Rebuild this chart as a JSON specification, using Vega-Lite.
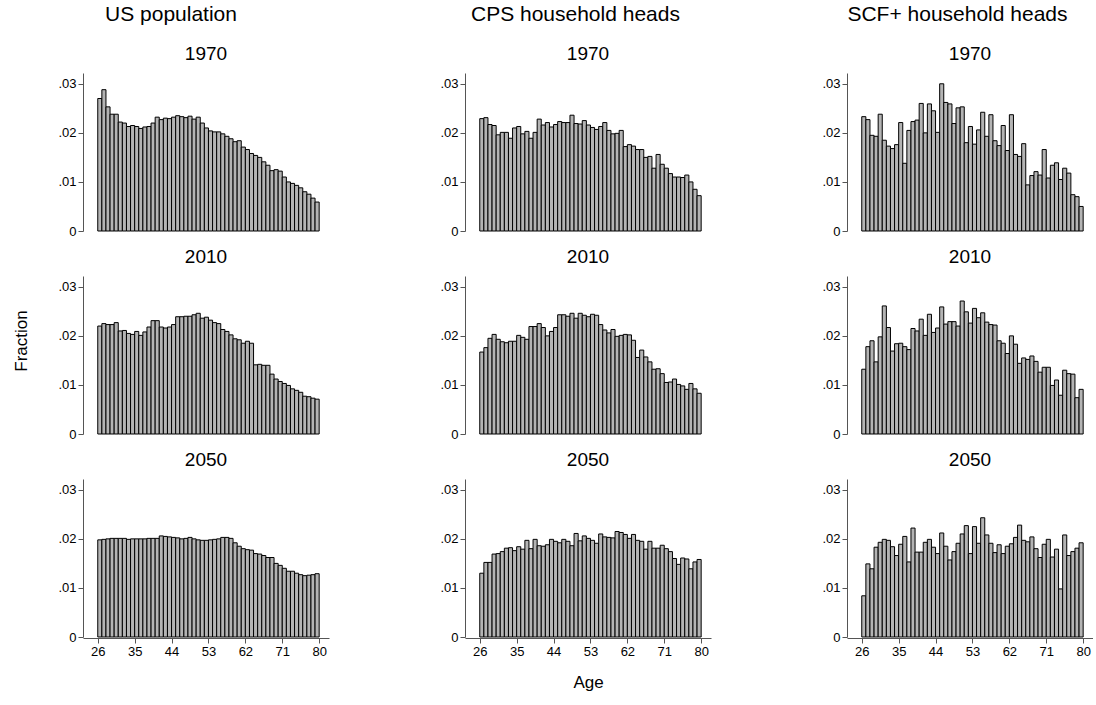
{
"$schema":"https://vega.github.io/schema/vega-lite/v6.json",
"background":"white",
"padding":{"left":13,"top":4,"right":0,"bottom":5},
"config":{"font":"Liberation Sans","view":{"stroke":null},
"title":{"font":"Liberation Sans","fontSize":21,"fontWeight":"normal","offset":20,"anchor":"middle"},
"axis":{"labelFont":"Liberation Sans","labelFontSize":13,"titleFont":"Liberation Sans","titleFontSize":17,"titleFontWeight":"normal","grid":false,"domainColor":"#555","tickColor":"#555","labelColor":"black","titleColor":"black"},
"header":{"labelFont":"Liberation Sans","labelFontSize":19,"titleFont":"Liberation Sans","titleFontSize":17,"titleFontWeight":"normal"}},
"datasets":{
"us":[
{"y":1970,"a":26,"v":0.0270},{"y":1970,"a":27,"v":0.0288},{"y":1970,"a":28,"v":0.0253},{"y":1970,"a":29,"v":0.0238},{"y":1970,"a":30,"v":0.0238},{"y":1970,"a":31,"v":0.0222},{"y":1970,"a":32,"v":0.0220},{"y":1970,"a":33,"v":0.0213},{"y":1970,"a":34,"v":0.0215},{"y":1970,"a":35,"v":0.0213},{"y":1970,"a":36,"v":0.0209},{"y":1970,"a":37,"v":0.0212},{"y":1970,"a":38,"v":0.0213},{"y":1970,"a":39,"v":0.0220},{"y":1970,"a":40,"v":0.0232},{"y":1970,"a":41,"v":0.0227},{"y":1970,"a":42,"v":0.0230},{"y":1970,"a":43,"v":0.0229},{"y":1970,"a":44,"v":0.0232},{"y":1970,"a":45,"v":0.0235},{"y":1970,"a":46,"v":0.0233},{"y":1970,"a":47,"v":0.0231},{"y":1970,"a":48,"v":0.0234},{"y":1970,"a":49,"v":0.0228},{"y":1970,"a":50,"v":0.0232},{"y":1970,"a":51,"v":0.0220},{"y":1970,"a":52,"v":0.0210},{"y":1970,"a":53,"v":0.0204},{"y":1970,"a":54,"v":0.0202},{"y":1970,"a":55,"v":0.0202},{"y":1970,"a":56,"v":0.0198},{"y":1970,"a":57,"v":0.0193},{"y":1970,"a":58,"v":0.0188},{"y":1970,"a":59,"v":0.0182},{"y":1970,"a":60,"v":0.0184},{"y":1970,"a":61,"v":0.0171},{"y":1970,"a":62,"v":0.0166},{"y":1970,"a":63,"v":0.0158},{"y":1970,"a":64,"v":0.0154},{"y":1970,"a":65,"v":0.0150},{"y":1970,"a":66,"v":0.0141},{"y":1970,"a":67,"v":0.0134},{"y":1970,"a":68,"v":0.0123},{"y":1970,"a":69,"v":0.0125},{"y":1970,"a":70,"v":0.0122},{"y":1970,"a":71,"v":0.0110},{"y":1970,"a":72,"v":0.0100},{"y":1970,"a":73,"v":0.0097},{"y":1970,"a":74,"v":0.0093},{"y":1970,"a":75,"v":0.0088},{"y":1970,"a":76,"v":0.0080},{"y":1970,"a":77,"v":0.0075},{"y":1970,"a":78,"v":0.0067},{"y":1970,"a":79,"v":0.0059},
{"y":2010,"a":26,"v":0.0220},{"y":2010,"a":27,"v":0.0225},{"y":2010,"a":28,"v":0.0223},{"y":2010,"a":29,"v":0.0223},{"y":2010,"a":30,"v":0.0227},{"y":2010,"a":31,"v":0.0210},{"y":2010,"a":32,"v":0.0211},{"y":2010,"a":33,"v":0.0205},{"y":2010,"a":34,"v":0.0203},{"y":2010,"a":35,"v":0.0209},{"y":2010,"a":36,"v":0.0201},{"y":2010,"a":37,"v":0.0208},{"y":2010,"a":38,"v":0.0218},{"y":2010,"a":39,"v":0.0231},{"y":2010,"a":40,"v":0.0231},{"y":2010,"a":41,"v":0.0218},{"y":2010,"a":42,"v":0.0216},{"y":2010,"a":43,"v":0.0218},{"y":2010,"a":44,"v":0.0223},{"y":2010,"a":45,"v":0.0239},{"y":2010,"a":46,"v":0.0239},{"y":2010,"a":47,"v":0.0240},{"y":2010,"a":48,"v":0.0240},{"y":2010,"a":49,"v":0.0243},{"y":2010,"a":50,"v":0.0246},{"y":2010,"a":51,"v":0.0236},{"y":2010,"a":52,"v":0.0238},{"y":2010,"a":53,"v":0.0232},{"y":2010,"a":54,"v":0.0227},{"y":2010,"a":55,"v":0.0225},{"y":2010,"a":56,"v":0.0213},{"y":2010,"a":57,"v":0.0209},{"y":2010,"a":58,"v":0.0202},{"y":2010,"a":59,"v":0.0194},{"y":2010,"a":60,"v":0.0192},{"y":2010,"a":61,"v":0.0185},{"y":2010,"a":62,"v":0.0189},{"y":2010,"a":63,"v":0.0185},{"y":2010,"a":64,"v":0.0141},{"y":2010,"a":65,"v":0.0142},{"y":2010,"a":66,"v":0.0140},{"y":2010,"a":67,"v":0.0140},{"y":2010,"a":68,"v":0.0122},{"y":2010,"a":69,"v":0.0112},{"y":2010,"a":70,"v":0.0107},{"y":2010,"a":71,"v":0.0103},{"y":2010,"a":72,"v":0.0099},{"y":2010,"a":73,"v":0.0092},{"y":2010,"a":74,"v":0.0089},{"y":2010,"a":75,"v":0.0085},{"y":2010,"a":76,"v":0.0077},{"y":2010,"a":77,"v":0.0076},{"y":2010,"a":78,"v":0.0073},{"y":2010,"a":79,"v":0.0071},
{"y":2050,"a":26,"v":0.0198},{"y":2050,"a":27,"v":0.0199},{"y":2050,"a":28,"v":0.0200},{"y":2050,"a":29,"v":0.0201},{"y":2050,"a":30,"v":0.0201},{"y":2050,"a":31,"v":0.0201},{"y":2050,"a":32,"v":0.0201},{"y":2050,"a":33,"v":0.0199},{"y":2050,"a":34,"v":0.0200},{"y":2050,"a":35,"v":0.0200},{"y":2050,"a":36,"v":0.0200},{"y":2050,"a":37,"v":0.0200},{"y":2050,"a":38,"v":0.0201},{"y":2050,"a":39,"v":0.0201},{"y":2050,"a":40,"v":0.0201},{"y":2050,"a":41,"v":0.0206},{"y":2050,"a":42,"v":0.0205},{"y":2050,"a":43,"v":0.0204},{"y":2050,"a":44,"v":0.0203},{"y":2050,"a":45,"v":0.0202},{"y":2050,"a":46,"v":0.0200},{"y":2050,"a":47,"v":0.0201},{"y":2050,"a":48,"v":0.0203},{"y":2050,"a":49,"v":0.0200},{"y":2050,"a":50,"v":0.0198},{"y":2050,"a":51,"v":0.0197},{"y":2050,"a":52,"v":0.0197},{"y":2050,"a":53,"v":0.0198},{"y":2050,"a":54,"v":0.0199},{"y":2050,"a":55,"v":0.0200},{"y":2050,"a":56,"v":0.0203},{"y":2050,"a":57,"v":0.0203},{"y":2050,"a":58,"v":0.0201},{"y":2050,"a":59,"v":0.0192},{"y":2050,"a":60,"v":0.0185},{"y":2050,"a":61,"v":0.0180},{"y":2050,"a":62,"v":0.0178},{"y":2050,"a":63,"v":0.0177},{"y":2050,"a":64,"v":0.0170},{"y":2050,"a":65,"v":0.0169},{"y":2050,"a":66,"v":0.0166},{"y":2050,"a":67,"v":0.0162},{"y":2050,"a":68,"v":0.0162},{"y":2050,"a":69,"v":0.0150},{"y":2050,"a":70,"v":0.0146},{"y":2050,"a":71,"v":0.0140},{"y":2050,"a":72,"v":0.0134},{"y":2050,"a":73,"v":0.0134},{"y":2050,"a":74,"v":0.0130},{"y":2050,"a":75,"v":0.0127},{"y":2050,"a":76,"v":0.0125},{"y":2050,"a":77,"v":0.0126},{"y":2050,"a":78,"v":0.0127},{"y":2050,"a":79,"v":0.0129}],
"cps":[
{"y":1970,"a":26,"v":0.0229},{"y":1970,"a":27,"v":0.0231},{"y":1970,"a":28,"v":0.0217},{"y":1970,"a":29,"v":0.0215},{"y":1970,"a":30,"v":0.0196},{"y":1970,"a":31,"v":0.0201},{"y":1970,"a":32,"v":0.0201},{"y":1970,"a":33,"v":0.0189},{"y":1970,"a":34,"v":0.0210},{"y":1970,"a":35,"v":0.0213},{"y":1970,"a":36,"v":0.0198},{"y":1970,"a":37,"v":0.0203},{"y":1970,"a":38,"v":0.0189},{"y":1970,"a":39,"v":0.0201},{"y":1970,"a":40,"v":0.0228},{"y":1970,"a":41,"v":0.0216},{"y":1970,"a":42,"v":0.0221},{"y":1970,"a":43,"v":0.0212},{"y":1970,"a":44,"v":0.0217},{"y":1970,"a":45,"v":0.0223},{"y":1970,"a":46,"v":0.0221},{"y":1970,"a":47,"v":0.0221},{"y":1970,"a":48,"v":0.0236},{"y":1970,"a":49,"v":0.0219},{"y":1970,"a":50,"v":0.0218},{"y":1970,"a":51,"v":0.0225},{"y":1970,"a":52,"v":0.0216},{"y":1970,"a":53,"v":0.0211},{"y":1970,"a":54,"v":0.0207},{"y":1970,"a":55,"v":0.0213},{"y":1970,"a":56,"v":0.0221},{"y":1970,"a":57,"v":0.0205},{"y":1970,"a":58,"v":0.0198},{"y":1970,"a":59,"v":0.0199},{"y":1970,"a":60,"v":0.0205},{"y":1970,"a":61,"v":0.0172},{"y":1970,"a":62,"v":0.0176},{"y":1970,"a":63,"v":0.0173},{"y":1970,"a":64,"v":0.0166},{"y":1970,"a":65,"v":0.0166},{"y":1970,"a":66,"v":0.0150},{"y":1970,"a":67,"v":0.0152},{"y":1970,"a":68,"v":0.0128},{"y":1970,"a":69,"v":0.0156},{"y":1970,"a":70,"v":0.0136},{"y":1970,"a":71,"v":0.0128},{"y":1970,"a":72,"v":0.0117},{"y":1970,"a":73,"v":0.0110},{"y":1970,"a":74,"v":0.0110},{"y":1970,"a":75,"v":0.0109},{"y":1970,"a":76,"v":0.0114},{"y":1970,"a":77,"v":0.0100},{"y":1970,"a":78,"v":0.0085},{"y":1970,"a":79,"v":0.0072},
{"y":2010,"a":26,"v":0.0167},{"y":2010,"a":27,"v":0.0176},{"y":2010,"a":28,"v":0.0195},{"y":2010,"a":29,"v":0.0203},{"y":2010,"a":30,"v":0.0193},{"y":2010,"a":31,"v":0.0188},{"y":2010,"a":32,"v":0.0186},{"y":2010,"a":33,"v":0.0189},{"y":2010,"a":34,"v":0.0189},{"y":2010,"a":35,"v":0.0201},{"y":2010,"a":36,"v":0.0197},{"y":2010,"a":37,"v":0.0193},{"y":2010,"a":38,"v":0.0219},{"y":2010,"a":39,"v":0.0219},{"y":2010,"a":40,"v":0.0225},{"y":2010,"a":41,"v":0.0217},{"y":2010,"a":42,"v":0.0200},{"y":2010,"a":43,"v":0.0209},{"y":2010,"a":44,"v":0.0217},{"y":2010,"a":45,"v":0.0243},{"y":2010,"a":46,"v":0.0243},{"y":2010,"a":47,"v":0.0240},{"y":2010,"a":48,"v":0.0246},{"y":2010,"a":49,"v":0.0236},{"y":2010,"a":50,"v":0.0246},{"y":2010,"a":51,"v":0.0242},{"y":2010,"a":52,"v":0.0239},{"y":2010,"a":53,"v":0.0244},{"y":2010,"a":54,"v":0.0242},{"y":2010,"a":55,"v":0.0223},{"y":2010,"a":56,"v":0.0212},{"y":2010,"a":57,"v":0.0206},{"y":2010,"a":58,"v":0.0213},{"y":2010,"a":59,"v":0.0199},{"y":2010,"a":60,"v":0.0201},{"y":2010,"a":61,"v":0.0203},{"y":2010,"a":62,"v":0.0202},{"y":2010,"a":63,"v":0.0191},{"y":2010,"a":64,"v":0.0156},{"y":2010,"a":65,"v":0.0171},{"y":2010,"a":66,"v":0.0157},{"y":2010,"a":67,"v":0.0147},{"y":2010,"a":68,"v":0.0132},{"y":2010,"a":69,"v":0.0133},{"y":2010,"a":70,"v":0.0123},{"y":2010,"a":71,"v":0.0105},{"y":2010,"a":72,"v":0.0106},{"y":2010,"a":73,"v":0.0112},{"y":2010,"a":74,"v":0.0101},{"y":2010,"a":75,"v":0.0098},{"y":2010,"a":76,"v":0.0091},{"y":2010,"a":77,"v":0.0103},{"y":2010,"a":78,"v":0.0092},{"y":2010,"a":79,"v":0.0083},
{"y":2050,"a":26,"v":0.0130},{"y":2050,"a":27,"v":0.0152},{"y":2050,"a":28,"v":0.0152},{"y":2050,"a":29,"v":0.0169},{"y":2050,"a":30,"v":0.0170},{"y":2050,"a":31,"v":0.0174},{"y":2050,"a":32,"v":0.0181},{"y":2050,"a":33,"v":0.0182},{"y":2050,"a":34,"v":0.0176},{"y":2050,"a":35,"v":0.0184},{"y":2050,"a":36,"v":0.0179},{"y":2050,"a":37,"v":0.0197},{"y":2050,"a":38,"v":0.0180},{"y":2050,"a":39,"v":0.0199},{"y":2050,"a":40,"v":0.0186},{"y":2050,"a":41,"v":0.0185},{"y":2050,"a":42,"v":0.0188},{"y":2050,"a":43,"v":0.0199},{"y":2050,"a":44,"v":0.0195},{"y":2050,"a":45,"v":0.0192},{"y":2050,"a":46,"v":0.0199},{"y":2050,"a":47,"v":0.0195},{"y":2050,"a":48,"v":0.0186},{"y":2050,"a":49,"v":0.0211},{"y":2050,"a":50,"v":0.0196},{"y":2050,"a":51,"v":0.0206},{"y":2050,"a":52,"v":0.0201},{"y":2050,"a":53,"v":0.0197},{"y":2050,"a":54,"v":0.0191},{"y":2050,"a":55,"v":0.0210},{"y":2050,"a":56,"v":0.0204},{"y":2050,"a":57,"v":0.0203},{"y":2050,"a":58,"v":0.0202},{"y":2050,"a":59,"v":0.0215},{"y":2050,"a":60,"v":0.0213},{"y":2050,"a":61,"v":0.0209},{"y":2050,"a":62,"v":0.0201},{"y":2050,"a":63,"v":0.0209},{"y":2050,"a":64,"v":0.0197},{"y":2050,"a":65,"v":0.0195},{"y":2050,"a":66,"v":0.0179},{"y":2050,"a":67,"v":0.0195},{"y":2050,"a":68,"v":0.0181},{"y":2050,"a":69,"v":0.0181},{"y":2050,"a":70,"v":0.0187},{"y":2050,"a":71,"v":0.0180},{"y":2050,"a":72,"v":0.0174},{"y":2050,"a":73,"v":0.0160},{"y":2050,"a":74,"v":0.0148},{"y":2050,"a":75,"v":0.0161},{"y":2050,"a":76,"v":0.0159},{"y":2050,"a":77,"v":0.0139},{"y":2050,"a":78,"v":0.0153},{"y":2050,"a":79,"v":0.0158}],
"scf":[
{"y":1970,"a":26,"v":0.0233},{"y":1970,"a":27,"v":0.0227},{"y":1970,"a":28,"v":0.0195},{"y":1970,"a":29,"v":0.0193},{"y":1970,"a":30,"v":0.0238},{"y":1970,"a":31,"v":0.0185},{"y":1970,"a":32,"v":0.0173},{"y":1970,"a":33,"v":0.0168},{"y":1970,"a":34,"v":0.0176},{"y":1970,"a":35,"v":0.0221},{"y":1970,"a":36,"v":0.0138},{"y":1970,"a":37,"v":0.0205},{"y":1970,"a":38,"v":0.0223},{"y":1970,"a":39,"v":0.0226},{"y":1970,"a":40,"v":0.0260},{"y":1970,"a":41,"v":0.0200},{"y":1970,"a":42,"v":0.0259},{"y":1970,"a":43,"v":0.0245},{"y":1970,"a":44,"v":0.0201},{"y":1970,"a":45,"v":0.0300},{"y":1970,"a":46,"v":0.0262},{"y":1970,"a":47,"v":0.0259},{"y":1970,"a":48,"v":0.0219},{"y":1970,"a":49,"v":0.0251},{"y":1970,"a":50,"v":0.0253},{"y":1970,"a":51,"v":0.0180},{"y":1970,"a":52,"v":0.0213},{"y":1970,"a":53,"v":0.0177},{"y":1970,"a":54,"v":0.0206},{"y":1970,"a":55,"v":0.0242},{"y":1970,"a":56,"v":0.0193},{"y":1970,"a":57,"v":0.0237},{"y":1970,"a":58,"v":0.0184},{"y":1970,"a":59,"v":0.0174},{"y":1970,"a":60,"v":0.0215},{"y":1970,"a":61,"v":0.0164},{"y":1970,"a":62,"v":0.0237},{"y":1970,"a":63,"v":0.0156},{"y":1970,"a":64,"v":0.0152},{"y":1970,"a":65,"v":0.0178},{"y":1970,"a":66,"v":0.0094},{"y":1970,"a":67,"v":0.0113},{"y":1970,"a":68,"v":0.0121},{"y":1970,"a":69,"v":0.0114},{"y":1970,"a":70,"v":0.0166},{"y":1970,"a":71,"v":0.0108},{"y":1970,"a":72,"v":0.0134},{"y":1970,"a":73,"v":0.0139},{"y":1970,"a":74,"v":0.0105},{"y":1970,"a":75,"v":0.0128},{"y":1970,"a":76,"v":0.0118},{"y":1970,"a":77,"v":0.0074},{"y":1970,"a":78,"v":0.0070},{"y":1970,"a":79,"v":0.0050},
{"y":2010,"a":26,"v":0.0132},{"y":2010,"a":27,"v":0.0178},{"y":2010,"a":28,"v":0.0190},{"y":2010,"a":29,"v":0.0147},{"y":2010,"a":30,"v":0.0198},{"y":2010,"a":31,"v":0.0261},{"y":2010,"a":32,"v":0.0217},{"y":2010,"a":33,"v":0.0169},{"y":2010,"a":34,"v":0.0184},{"y":2010,"a":35,"v":0.0185},{"y":2010,"a":36,"v":0.0178},{"y":2010,"a":37,"v":0.0172},{"y":2010,"a":38,"v":0.0215},{"y":2010,"a":39,"v":0.0210},{"y":2010,"a":40,"v":0.0234},{"y":2010,"a":41,"v":0.0201},{"y":2010,"a":42,"v":0.0244},{"y":2010,"a":43,"v":0.0207},{"y":2010,"a":44,"v":0.0216},{"y":2010,"a":45,"v":0.0259},{"y":2010,"a":46,"v":0.0224},{"y":2010,"a":47,"v":0.0229},{"y":2010,"a":48,"v":0.0229},{"y":2010,"a":49,"v":0.0220},{"y":2010,"a":50,"v":0.0271},{"y":2010,"a":51,"v":0.0249},{"y":2010,"a":52,"v":0.0226},{"y":2010,"a":53,"v":0.0256},{"y":2010,"a":54,"v":0.0237},{"y":2010,"a":55,"v":0.0247},{"y":2010,"a":56,"v":0.0228},{"y":2010,"a":57,"v":0.0223},{"y":2010,"a":58,"v":0.0222},{"y":2010,"a":59,"v":0.0190},{"y":2010,"a":60,"v":0.0185},{"y":2010,"a":61,"v":0.0164},{"y":2010,"a":62,"v":0.0200},{"y":2010,"a":63,"v":0.0183},{"y":2010,"a":64,"v":0.0144},{"y":2010,"a":65,"v":0.0155},{"y":2010,"a":66,"v":0.0152},{"y":2010,"a":67,"v":0.0159},{"y":2010,"a":68,"v":0.0148},{"y":2010,"a":69,"v":0.0126},{"y":2010,"a":70,"v":0.0136},{"y":2010,"a":71,"v":0.0136},{"y":2010,"a":72,"v":0.0099},{"y":2010,"a":73,"v":0.0110},{"y":2010,"a":74,"v":0.0079},{"y":2010,"a":75,"v":0.0130},{"y":2010,"a":76,"v":0.0123},{"y":2010,"a":77,"v":0.0122},{"y":2010,"a":78,"v":0.0074},{"y":2010,"a":79,"v":0.0091},
{"y":2050,"a":26,"v":0.0084},{"y":2050,"a":27,"v":0.0149},{"y":2050,"a":28,"v":0.0139},{"y":2050,"a":29,"v":0.0183},{"y":2050,"a":30,"v":0.0193},{"y":2050,"a":31,"v":0.0199},{"y":2050,"a":32,"v":0.0197},{"y":2050,"a":33,"v":0.0184},{"y":2050,"a":34,"v":0.0166},{"y":2050,"a":35,"v":0.0189},{"y":2050,"a":36,"v":0.0205},{"y":2050,"a":37,"v":0.0153},{"y":2050,"a":38,"v":0.0222},{"y":2050,"a":39,"v":0.0173},{"y":2050,"a":40,"v":0.0173},{"y":2050,"a":41,"v":0.0193},{"y":2050,"a":42,"v":0.0199},{"y":2050,"a":43,"v":0.0183},{"y":2050,"a":44,"v":0.0170},{"y":2050,"a":45,"v":0.0212},{"y":2050,"a":46,"v":0.0185},{"y":2050,"a":47,"v":0.0157},{"y":2050,"a":48,"v":0.0174},{"y":2050,"a":49,"v":0.0191},{"y":2050,"a":50,"v":0.0210},{"y":2050,"a":51,"v":0.0227},{"y":2050,"a":52,"v":0.0170},{"y":2050,"a":53,"v":0.0225},{"y":2050,"a":54,"v":0.0191},{"y":2050,"a":55,"v":0.0243},{"y":2050,"a":56,"v":0.0208},{"y":2050,"a":57,"v":0.0191},{"y":2050,"a":58,"v":0.0172},{"y":2050,"a":59,"v":0.0188},{"y":2050,"a":60,"v":0.0170},{"y":2050,"a":61,"v":0.0185},{"y":2050,"a":62,"v":0.0190},{"y":2050,"a":63,"v":0.0203},{"y":2050,"a":64,"v":0.0228},{"y":2050,"a":65,"v":0.0197},{"y":2050,"a":66,"v":0.0194},{"y":2050,"a":67,"v":0.0204},{"y":2050,"a":68,"v":0.0180},{"y":2050,"a":69,"v":0.0162},{"y":2050,"a":70,"v":0.0189},{"y":2050,"a":71,"v":0.0199},{"y":2050,"a":72,"v":0.0163},{"y":2050,"a":73,"v":0.0179},{"y":2050,"a":74,"v":0.0098},{"y":2050,"a":75,"v":0.0208},{"y":2050,"a":76,"v":0.0166},{"y":2050,"a":77,"v":0.0174},{"y":2050,"a":78,"v":0.0181},{"y":2050,"a":79,"v":0.0192}]
},
"hconcat":[
{"title":"US population","data":{"name":"us"},"spacing":{"row":16},
"facet":{"row":{"field":"y","type":"ordinal","header":{"labelOrient":"top","labelAngle":0,"title":"Fraction","titleOrient":"left","titlePadding":16,"labelPadding":-10}}},
"spec":{"width":246,"height":158,"transform":[{"calculate":"datum.a+1","as":"a2"}],
"mark":{"type":"bar","fill":"#b4b4b4","stroke":"black","strokeWidth":1},
"encoding":{
"x":{"field":"a","type":"quantitative","scale":{"domain":[22.4,82.4],"nice":false,"zero":false},"axis":{"values":[26,35,44,53,62,71,80],"title":null}},
"x2":{"field":"a2"},
"y":{"field":"v","type":"quantitative","scale":{"domain":[0,0.0322],"nice":false},"axis":{"values":[0,0.01,0.02,0.03],"labelExpr":"datum.value==0?'0':replace(format(datum.value,'.2f'),'0.','.')","title":null}},
"y2":{"datum":0}}}},
{"title":"CPS household heads","data":{"name":"cps"},"spacing":{"row":16},
"facet":{"row":{"field":"y","type":"ordinal","header":{"labelOrient":"top","labelAngle":0,"title":null,"labelPadding":-10}}},
"spec":{"width":246,"height":158,"transform":[{"calculate":"datum.a+1","as":"a2"}],
"mark":{"type":"bar","fill":"#b4b4b4","stroke":"black","strokeWidth":1},
"encoding":{
"x":{"field":"a","type":"quantitative","scale":{"domain":[22.4,82.4],"nice":false,"zero":false},"axis":{"values":[26,35,44,53,62,71,80],"title":"Age","titlePadding":16}},
"x2":{"field":"a2"},
"y":{"field":"v","type":"quantitative","scale":{"domain":[0,0.0322],"nice":false},"axis":{"values":[0,0.01,0.02,0.03],"labelExpr":"datum.value==0?'0':replace(format(datum.value,'.2f'),'0.','.')","title":null}},
"y2":{"datum":0}}}},
{"title":"SCF+ household heads","data":{"name":"scf"},"spacing":{"row":16},
"facet":{"row":{"field":"y","type":"ordinal","header":{"labelOrient":"top","labelAngle":0,"title":null,"labelPadding":-10}}},
"spec":{"width":246,"height":158,"transform":[{"calculate":"datum.a+1","as":"a2"}],
"mark":{"type":"bar","fill":"#b4b4b4","stroke":"black","strokeWidth":1},
"encoding":{
"x":{"field":"a","type":"quantitative","scale":{"domain":[22.4,82.4],"nice":false,"zero":false},"axis":{"values":[26,35,44,53,62,71,80],"title":null}},
"x2":{"field":"a2"},
"y":{"field":"v","type":"quantitative","scale":{"domain":[0,0.0322],"nice":false},"axis":{"values":[0,0.01,0.02,0.03],"labelExpr":"datum.value==0?'0':replace(format(datum.value,'.2f'),'0.','.')","title":null}},
"y2":{"datum":0}}}}
],
"spacing":110
}
